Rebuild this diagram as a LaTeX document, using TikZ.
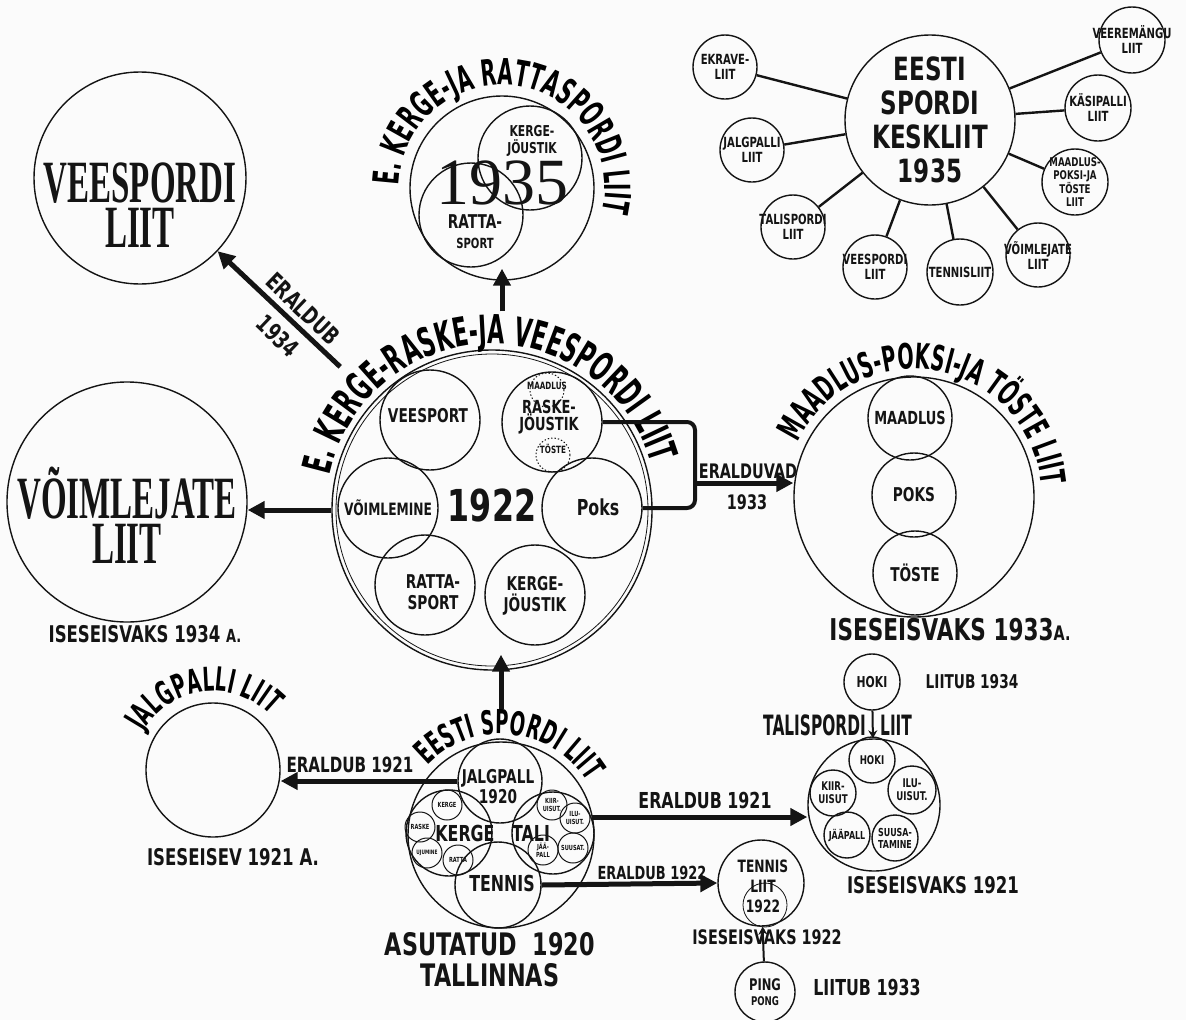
\documentclass[tikz,border=0pt]{standalone}
\usepackage{fontspec}
\usetikzlibrary{arrows.meta,decorations.text}
\newfontfamily\hand[FakeStretch=0.72]{DejaVu Sans}
\newfontfamily\handn[FakeStretch=0.55]{DejaVu Sans}
\newfontfamily\deco[FakeStretch=0.55]{Liberation Serif}
\newfontfamily\plain{Liberation Serif}
\definecolor{ink}{HTML}{141414}
\definecolor{paper}{HTML}{FBFBFB}
\tikzset{
  ring/.style={circle, draw=ink, line width=1.4pt, inner sep=0pt, minimum size=#1},
  dotring/.style={ring=#1, dotted, line width=1pt},
  lab/.style 2 args={inner sep=0pt, align=center, text=ink,
              font=\hand\bfseries\fontsize{#1}{#2}\selectfont},
  labn/.style 2 args={inner sep=0pt, align=center, text=ink,
              font=\handn\bfseries\fontsize{#1}{#2}\selectfont},
  decolab/.style={inner sep=0pt, align=center, text=ink,
              font=\deco\bfseries\fontsize{60}{45}\selectfont},
  arctext/.style 2 args={decorate, decoration={text along path, text align=center,
              text={|\handn\bfseries\fontsize{#1}{#1}\selectfont|#2}}},
  bigarrow/.style={draw=ink, line width=5pt, -{Triangle[length=17pt,width=17pt]}},
  thinarrow/.style={draw=ink, line width=2pt, -{Stealth[length=8pt,width=9pt]}},
  spoke/.style={draw=ink, line width=2.4pt},
  bar/.style={draw=ink, line width=4pt, rounded corners=8pt},
}

\begin{document}
\begin{tikzpicture}[x=1pt, y=1pt]
\path[fill=paper] (0,0) rectangle (1186,-1020);
\useasboundingbox (0,0) rectangle (1186,-1020);

% --- Eesti Spordi Keskliit 1935 ------------------------------------------
\node[ring=170pt] (esk) at (930,-120) {};
\node[lab={32}{34}] (eskname) at (esk) {EESTI\\SPORDI\\KESKLIIT\\1935};
\node[ring=64pt] (kekr) at (725,-67) {};
\node[lab={14}{15}] (kekrt) at (kekr) {EKRAVE-\\LIIT};
\node[ring=64pt] (kjlg) at (752,-150) {};
\node[lab={14}{15}] (kjlgt) at (kjlg) {JALGPALLI\\LIIT};
\node[ring=64pt] (ktal) at (793,-227) {};
\node[lab={14}{15}] (ktalt) at (ktal) {TALISPORDI\\LIIT};
\node[ring=64pt] (kvsp) at (875,-267) {};
\node[lab={14}{15}] (kvspt) at (kvsp) {VEESPORDI\\LIIT};
\node[ring=66pt] (kten) at (960,-272) {};
\node[lab={14}{15}] (ktent) at (kten) {TENNISLIIT};
\node[ring=64pt] (kvml) at (1038,-255) {};
\node[lab={14}{15}] (kvmlt) at (kvml) {VÕIMLEJATE\\LIIT};
\node[ring=66pt] (kmpt) at (1075,-182) {};
\node[lab={12}{13}] (kmptt) at (kmpt) {MAADLUS-\\POKSI-JA\\TÖSTE\\LIIT};
\node[ring=66pt] (kksp) at (1098,-108) {};
\node[lab={14}{15}] (kkspt) at (kksp) {KÄSIPALLI\\LIIT};
\node[ring=66pt] (kvrm) at (1132,-40) {};
\node[lab={14}{15}] (kvrmt) at (kvrm) {VEEREMÄNGU\\LIIT};
\draw[spoke] (esk) -- (kekr) (esk) -- (kjlg) (esk) -- (ktal)
             (esk) -- (kvsp) (esk) -- (kten) (esk) -- (kvml)
             (esk) -- (kmpt) (esk) -- (kksp) (esk) -- (kvrm);

% --- Veespordi Liit, E. Kerge- ja Rattaspordi Liit ------------------------
\node[ring=212pt] (vees) at (140,-178) {};
\node[decolab] (veesname) at (140,-205) {VEESPORDI\\LIIT};

\node[ring=184pt] (kr) at (502,-188) {};
\node[ring=104pt] (krk) at (530,-158) {};
\node[ring=104pt] (krr) at (471,-215) {};
\node[inner sep=0pt, text=ink, font=\plain\fontsize{66}{66}\selectfont] (kryear) at (502,-183) {1935};
\node[lab={15}{17}] (krkt) at (532,-141) {KERGE-\\JÖUSTIK};
\node[lab={19}{20}] (krrt) at (475,-232) {RATTA-\\{\fontsize{14}{14}\selectfont SPORT}};
\path[arctext={36}{E. KERGE-JA RATTASPORDI LIIT}, shift={(kr.center)}]
  (205:103pt) arc[start angle=205, end angle=-40, radius=103pt];

% --- E. Kerge-, Raske- ja Veespordi Liit 1922 -----------------------------
\node[ring=320pt] (main) at (492,-510) {};
\node[ring=312pt, line width=0.8pt] (mainin) at (main) {};
\node[ring=100pt] (mvee) at (430,-420) {};
\node[ring=100pt] (mras) at (552,-422) {};
\node[ring=100pt] (mvoi) at (388,-508) {};
\node[ring=100pt] (mpok) at (592,-508) {};
\node[ring=100pt] (mrat) at (425,-585) {};
\node[ring=100pt] (mker) at (535,-595) {};
\node[dotring=34pt] (mmaa) at (547,-390) {};
\node[dotring=34pt] (mtos) at (553,-455) {};
\node[lab={19}{20}] (mveet) at (428,-416) {VEESPORT};
\node[lab={10}{10}] (mmaat) at (547,-386) {MAADLUS};
\node[lab={18}{17}] (mrast) at (549,-417) {RASKE-\\JÖUSTIK};
\node[lab={10}{10}] (mtost) at (553,-449) {TÖSTE};
\node[lab={17}{18}] (mvoit) at (388,-508) {VÕIMLEMINE};
\node[lab={22}{22}] (mpokt) at (598,-507) {Poks};
\node[lab={19}{21}] (mratt) at (433,-592) {RATTA-\\SPORT};
\node[lab={19}{21}] (mkert) at (535,-596) {KERGE-\\JÖUSTIK};
\node[lab={44}{44}] (myear) at (492,-505) {1922};
\path[arctext={40}{E. KERGE-RASKE-JA VEESPORDI LIIT}, shift={(main.center)}]
  (186:166pt) arc[start angle=186, end angle=-2, radius=166pt];

\draw[bigarrow, shorten <=48pt] (main) -- (vees);
\node[lab={24}{24}, rotate=-43.6] (erl34a) at (303,-309) {ERALDUB};
\node[lab={24}{24}, rotate=-43.6] (erl34b) at (278,-336) {1934};
\draw[bigarrow, shorten <=38pt, shorten >=-12pt] (main.north -| kr) -- (kr.south);

% --- Võimlejate Liit ------------------------------------------------------
\node[ring=240pt] (vo) at (127,-502) {};
\node[decolab] (voname) at (127,-515) {VÕIMLEJATE\\LIIT};
\node[lab={23}{23}] (voind) at (145,-634) {ISESEISVAKS 1934 {\fontsize{18}{18}\selectfont A.}};
\draw[bigarrow] (main.west) -- (main.west -| vo.east);

% --- Maadlus-, Poksi- ja Tõste Liit ---------------------------------------
\node[ring=240pt] (maad) at (914,-497) {};
\node[ring=84pt] (mdl) at (910,-418) {};
\node[ring=84pt] (mpk) at (914,-495) {};
\node[ring=84pt] (mts) at (915,-573) {};
\node[lab={18}{18}] (mdlt) at (mdl) {MAADLUS};
\node[lab={19}{19}] (mpkt) at (mpk) {POKS};
\node[lab={19}{19}] (mtst) at (mts) {TÖSTE};
\path[arctext={35}{MAADLUS-POKSI-JA TÖSTE LIIT}, shift={(maad.center)}]
  (170:128pt) arc[start angle=170, end angle=-10, radius=128pt];
\node[lab={30}{30}] (maadind) at (950,-630) {ISESEISVAKS 1933{\fontsize{20}{20}\selectfont A.}};

\coordinate (brk) at (695,-483);
\draw[bar] (mras.east) -| (brk) |- (mpok.east);
\draw[bigarrow] (brk) -- (brk -| maad.west);
\node[lab={20}{20}] (erlv) at (748,-471) {ERALDUVAD};
\node[lab={20}{20}] (erlvy) at (747,-502) {1933};

% --- Eesti Spordi Liit 1920 -----------------------------------------------
\node[ring=186pt] (esl) at (501,-835) {};
\node[ring=84pt] (ejp) at (500,-781) {};
\node[ring=86pt] (ekg) at (449,-833) {};
\node[ring=82pt] (etl) at (553,-833) {};
\node[ring=86pt] (etn) at (498,-885) {};
\node[ring=30pt, line width=1pt] (ek1) at (447,-805) {};
\node[ring=30pt, line width=1pt] (ek2) at (420,-827) {};
\node[ring=30pt, line width=1pt] (ek3) at (427,-853) {};
\node[ring=30pt, line width=1pt] (ek4) at (458,-860) {};
\node[ring=30pt, line width=1pt] (et1) at (552,-805) {};
\node[ring=30pt, line width=1pt] (et2) at (575,-818) {};
\node[ring=30pt, line width=1pt] (et3) at (573,-848) {};
\node[ring=30pt, line width=1pt] (et4) at (543,-850) {};
\node[lab={7}{7}] (ek1t) at (ek1) {KERGE};
\node[lab={7}{7}] (ek2t) at (ek2) {RASKE};
\node[lab={6}{6}] (ek3t) at (ek3) {UJUMINE};
\node[lab={7}{7}] (ek4t) at (ek4) {RATTA};
\node[lab={7}{8}] (et1t) at (et1) {KIIR-\\UISUT.};
\node[lab={7}{8}] (et2t) at (et2) {ILU-\\UISUT.};
\node[lab={7}{8}] (et3t) at (et3) {SUUSAT.};
\node[lab={7}{8}] (et4t) at (et4) {JÄÄ-\\PALL};
\node[lab={19}{20}] (ejpt) at (498,-787) {JALGPALL\\1920};
\node[lab={22}{22}] (ekgt) at (465,-833) {KERGE};
\node[lab={22}{22}] (etlt) at (531,-833) {TALI};
\node[lab={22}{22}] (etnt) at (502,-883) {TENNIS};
\path[arctext={33}{EESTI SPORDI LIIT}, shift={(esl.center)}]
  (180:101pt) arc[start angle=180, end angle=-12, radius=101pt];
\node[lab={31}{31}] (eslind) at (490,-960) {ASUTATUD\ \ 1920\\TALLINNAS};
\draw[bigarrow, shorten <=32pt, shorten >=-16pt] (esl.north) -- (esl |- main.south);

% --- Jalgpalli Liit -------------------------------------------------------
\node[ring=134pt] (jl) at (213,-770) {};
\path[arctext={33}{JALGPALLI LIIT}, shift={(jl.center)}]
  (190:79pt) arc[start angle=190, end angle=5, radius=79pt];
\node[lab={23}{23}] (jlind) at (233,-857) {ISESEISEV 1921 A.};
\draw[bigarrow] (ejp.west) -- (ejp.west -| jl.east);
\node[lab={21}{21}] (erl21a) at (350,-765) {ERALDUB 1921};

% --- Talispordi Liit ------------------------------------------------------
\node[ring=132pt] (tsl) at (874,-805) {};
\node[ring=46pt] (tsh) at (872,-760) {};
\node[ring=46pt] (tsk) at (833,-793) {};
\node[ring=48pt] (tsi) at (912,-790) {};
\node[ring=46pt] (tsj) at (847,-835) {};
\node[ring=46pt] (tss) at (895,-838) {};
\node[lab={12}{12}] (tsht) at (tsh) {HOKI};
\node[lab={12}{13}] (tskt) at (tsk) {KIIR-\\UISUT};
\node[lab={12}{13}] (tsit) at (tsi) {ILU-\\UISUT.};
\node[lab={11}{12}] (tsjt) at (tsj) {JÄÄPALL};
\node[lab={11}{12}] (tsst) at (tss) {SUUSA-\\TAMINE};
\node[labn={28}{28}, anchor=east] (tslname) at (866,-725) {TALISPORDI};
\node[labn={28}{28}, anchor=west] (tslliit) at (880,-725) {LIIT};
\node[ring=56pt] (hko) at (872,-682) {};
\node[lab={15}{15}] (hkot) at (hko) {HOKI};
\node[lab={19}{19}] (hkoind) at (972,-682) {LIITUB 1934};
\draw[thinarrow] (hko) -- (tsl);
\node[lab={23}{23}] (tslind) at (933,-885) {ISESEISVAKS 1921};
\coordinate (tarr) at (592,-817);
\draw[bigarrow] (tarr) -- (tarr -| tsl.west);
\node[lab={22}{22}] (erl21b) at (705,-800) {ERALDUB 1921};

% --- Tennis Liit, Ping Pong -----------------------------------------------
\node[ring=86pt] (tl) at (761,-883) {};
\node[ring=44pt, line width=0.8pt] (tlin) at (765,-905) {};
\node[lab={17}{20}] (tlt) at (763,-886) {TENNIS\\LIIT\\1922};
\draw[bigarrow] (etn.east) -- (tl.west);
\node[lab={18}{18}] (erl22) at (652,-873) {ERALDUB 1922};
\node[lab={20}{20}] (tlind) at (767,-937) {ISESEISVAKS 1922};
\node[ring=60pt] (ping) at (765,-992) {};
\node[lab={16}{15}] (pingt) at (ping) {PING\\{\fontsize{12}{12}\selectfont PONG}};
\node[lab={22}{22}] (pingind) at (867,-987) {LIITUB 1933};
\draw[thinarrow] (ping) -- (tl);
\end{tikzpicture}
\end{document}
